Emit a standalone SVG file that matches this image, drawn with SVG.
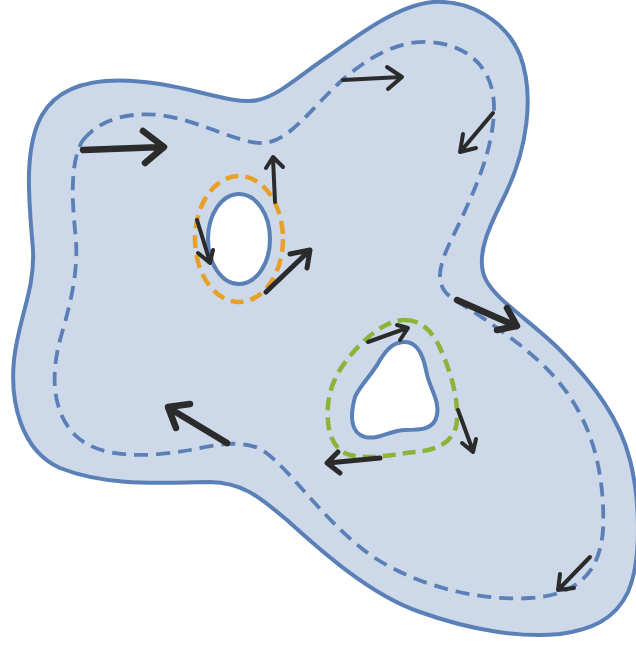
<svg xmlns="http://www.w3.org/2000/svg" width="636" height="647" viewBox="0 0 636 647">
  <style>
    .edge { fill: #cdd9e8; stroke: #5a80b7; stroke-width: 4; stroke-linejoin: round; }
    .hole { fill: #ffffff; stroke: #5a80b7; stroke-width: 4; }
    .dash { fill: none; stroke: #5a80b7; stroke-width: 3.8; stroke-dasharray: 14 8; }
    .dash-o { fill: none; stroke: #e9a027; stroke-width: 4.5; stroke-dasharray: 13 7; }
    .dash-g { fill: none; stroke: #8db43a; stroke-width: 4.5; stroke-dasharray: 13 7; }
    .arr { fill: none; stroke: #2b2b2b; stroke-linecap: round; stroke-linejoin: round; }
    .w6 { stroke-width: 6.5; }
    .w5 { stroke-width: 5; }
    .w4 { stroke-width: 4; }
  </style>
  <g id="region">
    <path class="edge" d="M 433,2 C 470,0 505,20 520,55 C 535,95 527,150 505,195 C 490,225 475,255 485,278 C 495,300 530,320 560,350 C 595,385 620,420 630,460 C 640,500 642,560 628,592 C 615,620 590,630 560,634 C 520,638 470,630 420,612 C 370,595 320,550 287,520 C 260,498 245,483 210,482 C 170,482 110,488 60,468 C 20,450 10,400 14,360 C 18,320 35,290 33,250 C 30,210 22,150 42,115 C 62,80 110,76 160,84 C 200,90 235,105 258,100 C 280,95 300,75 330,55 C 365,30 400,5 433,2 Z"/>
  </g>
  <g id="loops">
    <path class="dash" d="M 83,140 C 100,120 125,112 160,115 C 200,120 240,145 265,143 C 290,140 310,110 340,82 C 365,60 395,40 430,42 C 470,45 495,70 494,110 C 493,150 475,190 457,228 C 440,262 430,285 455,300 C 490,322 540,355 565,390 C 595,430 605,480 603,530 C 600,570 580,595 530,598 C 470,602 400,580 360,547 C 320,515 290,470 265,452 C 245,438 215,445 190,450 C 150,457 100,460 75,435 C 50,410 52,370 60,340 C 70,305 80,270 75,230 C 72,200 70,160 83,140 Z"/>
    <ellipse class="dash-o" cx="239" cy="239" rx="44" ry="63"/>
    <path class="dash-g" d="M 405,320 C 420,320 432,330 440,348 C 450,370 458,395 457,420 C 456,440 440,450 415,452 C 395,454 370,460 350,455 C 332,450 326,430 328,405 C 330,380 345,360 360,345 C 375,330 390,320 405,320 Z"/>
  </g>
  <g id="hole-1">
    <ellipse class="hole" cx="239" cy="239" rx="31" ry="45"/>
  </g>
  <g id="hole-2">
    <path class="hole" d="M 405,342 C 415,342 422,350 426,370 C 429,388 440,400 437,415 C 434,430 420,430 405,430 C 390,430 380,440 365,437 C 350,433 350,415 355,397 C 360,385 372,375 380,360 C 388,347 395,342 405,342 Z"/>
  </g>
  <g id="arrows">
    <path class="arr w6" d="M 83,150 L 163,147 M 143,131 L 164,147 L 145,163"/>
    <path class="arr w4" d="M 343,80 L 401,77 M 387,67 L 402,77 L 388,89"/>
    <path class="arr w4" d="M 493,113 L 461,151 M 463,134 L 460,152 L 476,148"/>
    <path class="arr w4" d="M 275,202 L 273,158 M 266,168 L 273,157 L 283,167"/>
    <path class="arr w4" d="M 197,220 L 210,262 M 198,253 L 210,263 L 213,250"/>
    <path class="arr w5" d="M 266,292 L 309,251 M 290,254 L 310,250 L 307,268"/>
    <path class="arr w6" d="M 457,300 L 516,326 M 507,308 L 517,326 L 497,330"/>
    <path class="arr w4" d="M 368,342 L 407,328 M 397,325 L 408,328 L 400,340"/>
    <path class="arr w4" d="M 458,410 L 473,451 M 462,443 L 473,452 L 476,439"/>
    <path class="arr w5" d="M 380,458 L 328,463 M 338,452 L 327,463 L 340,473"/>
    <path class="arr w6" d="M 227,443 L 169,408 M 190,404 L 168,407 L 176,428"/>
    <path class="arr w4" d="M 590,557 L 559,589 M 560,574 L 558,590 L 574,588"/>
  </g>
</svg>
